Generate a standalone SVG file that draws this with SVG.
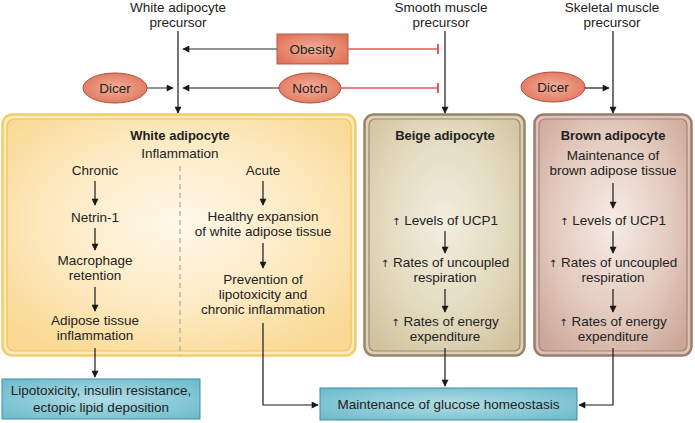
<svg xmlns="http://www.w3.org/2000/svg" width="695" height="423" viewBox="0 0 695 423">
<defs>
<radialGradient id="gWhite" cx="0.5" cy="0.45" r="0.65">
<stop offset="0" stop-color="#fff8ea"/><stop offset="0.6" stop-color="#fde9bf"/><stop offset="1" stop-color="#f9d993"/>
</radialGradient>
<radialGradient id="gBeige" cx="0.5" cy="0.45" r="0.7">
<stop offset="0" stop-color="#f2eee0"/><stop offset="0.6" stop-color="#e2d9bd"/><stop offset="1" stop-color="#cfc19a"/>
</radialGradient>
<radialGradient id="gBrown" cx="0.5" cy="0.45" r="0.7">
<stop offset="0" stop-color="#f6ece6"/><stop offset="0.6" stop-color="#e2c8bc"/><stop offset="1" stop-color="#cba596"/>
</radialGradient>
<radialGradient id="gRed" cx="0.5" cy="0.5" r="0.6">
<stop offset="0" stop-color="#f3b09c"/><stop offset="1" stop-color="#e07358"/>
</radialGradient>
<radialGradient id="gBlue" cx="0.5" cy="0.5" r="0.65">
<stop offset="0" stop-color="#b2dde6"/><stop offset="1" stop-color="#6fbccd"/>
</radialGradient>
<marker id="ah" viewBox="0 0 10 10" refX="9" refY="5" markerWidth="10" markerHeight="7" markerUnits="userSpaceOnUse" orient="auto">
<path d="M0,0 L10,5 L0,10 z" fill="#1a1a1a"/>
</marker>
<marker id="tbar" viewBox="0 0 2 10" refX="1" refY="5" markerWidth="2" markerHeight="10" markerUnits="userSpaceOnUse" orient="auto">
<rect x="0" y="0" width="2" height="10" fill="#e05a5a"/>
</marker>
<style>
text{font-family:"Liberation Sans",Arial,sans-serif;font-size:13.5px;fill:#222;text-anchor:middle}
.b{font-weight:bold;font-size:13px}
.up{font-family:"DejaVu Sans",sans-serif;font-size:10px;fill:#222}
.ln{stroke:#1a1a1a;stroke-width:1.2;fill:none}
.gr{stroke:#707070;stroke-width:1.5;fill:none}
.red{stroke:#e05a5a;stroke-width:1.3;fill:none}
.pill{fill:url(#gRed);stroke:#a8503c;stroke-width:1}
.blue{fill:url(#gBlue);stroke:#3f8ea2;stroke-width:1}
</style>
</defs>

<g id="white-precursor"><text x="178" y="12">White adipocyte</text><text x="178" y="27">precursor</text></g>
<g id="smooth-precursor"><text x="441" y="12">Smooth muscle</text><text x="441" y="27">precursor</text></g>
<g id="skeletal-precursor"><text x="612" y="12">Skeletal muscle</text><text x="612" y="27">precursor</text></g>

<g id="obesity"><rect x="277" y="34" width="71" height="30" fill="url(#gRed)" stroke="#b05a46" stroke-width="1"/><text x="312.5" y="54">Obesity</text></g>
<g id="notch"><ellipse cx="310" cy="88" rx="31" ry="15" class="pill"/><text x="310" y="93">Notch</text></g>
<g id="dicer-left"><ellipse cx="115" cy="88" rx="32" ry="15" class="pill"/><text x="115" y="93">Dicer</text></g>
<g id="dicer-right"><ellipse cx="553" cy="87" rx="32" ry="15" class="pill"/><text x="553" y="92">Dicer</text></g>

<g id="white-adipocyte">
<rect x="2.5" y="114.5" width="353" height="241" rx="10" fill="#fdebb9" stroke="#f4cc6c" stroke-width="2.5"/>
<rect x="7" y="119" width="344" height="232" rx="7" fill="url(#gWhite)" stroke="#f0c25c" stroke-width="1.2"/>
<text x="180" y="140" class="b">White adipocyte</text>
<text x="180" y="158">Inflammation</text>
<line x1="180" y1="166" x2="180" y2="356" stroke="#a8a8a0" stroke-width="1.2" stroke-dasharray="5,4"/>
<text x="95" y="175">Chronic</text>
<text x="95" y="222">Netrin-1</text>
<text x="95" y="265">Macrophage</text>
<text x="95" y="280">retention</text>
<text x="95" y="325">Adipose tissue</text>
<text x="95" y="340">inflammation</text>
<text x="263" y="175">Acute</text>
<text x="263" y="221">Healthy expansion</text>
<text x="263" y="236">of white adipose tissue</text>
<text x="263" y="284">Prevention of</text>
<text x="263" y="299">lipotoxicity and</text>
<text x="263" y="314">chronic inflammation</text>
</g>

<g id="beige-adipocyte">
<rect x="364.5" y="114.5" width="160" height="241" rx="9" fill="#ddd2b8" stroke="#968469" stroke-width="2.5"/>
<rect x="369" y="119" width="151" height="232" rx="6" fill="url(#gBeige)" stroke="#9a8a6e" stroke-width="1.2"/>
<text x="445" y="140" class="b">Beige adipocyte</text>
<text x="445" y="225"><tspan class="up">↑</tspan> Levels of UCP1</text>
<text x="445" y="267"><tspan class="up">↑</tspan> Rates of uncoupled</text>
<text x="445" y="282">respiration</text>
<text x="445" y="326"><tspan class="up">↑</tspan> Rates of energy</text>
<text x="445" y="341">expenditure</text>
</g>

<g id="brown-adipocyte">
<rect x="534.5" y="114.5" width="157" height="241" rx="9" fill="#dcc4b8" stroke="#9c7a6c" stroke-width="2.5"/>
<rect x="539" y="119" width="148" height="232" rx="6" fill="url(#gBrown)" stroke="#a48476" stroke-width="1.2"/>
<text x="613" y="140" class="b">Brown adipocyte</text>
<text x="613" y="160">Maintenance of</text>
<text x="613" y="175">brown adipose tissue</text>
<text x="613" y="225"><tspan class="up">↑</tspan> Levels of UCP1</text>
<text x="613" y="267"><tspan class="up">↑</tspan> Rates of uncoupled</text>
<text x="613" y="282">respiration</text>
<text x="613" y="326"><tspan class="up">↑</tspan> Rates of energy</text>
<text x="613" y="341">expenditure</text>
</g>

<g id="lipotoxicity"><rect x="2" y="379" width="198" height="40" class="blue"/><text x="101" y="395">Lipotoxicity, insulin resistance,</text><text x="101" y="412">ectopic lipid deposition</text></g>
<g id="glucose"><rect x="320" y="388" width="257" height="32" class="blue"/><text x="448.5" y="409">Maintenance of glucose homeostasis</text></g>

<g id="connectors">
<line x1="178" y1="31" x2="178" y2="113" class="ln" marker-end="url(#ah)"/>
<line x1="445" y1="31" x2="445" y2="113" class="ln" marker-end="url(#ah)"/>
<line x1="613" y1="31" x2="613" y2="113" class="ln" marker-end="url(#ah)"/>
<line x1="277" y1="49" x2="183" y2="49" class="gr" marker-end="url(#ah)"/>
<line x1="279" y1="88" x2="183" y2="88" class="ln" marker-end="url(#ah)"/>
<line x1="147" y1="88" x2="173" y2="88" class="gr" marker-end="url(#ah)"/>
<line x1="585" y1="88" x2="609" y2="88" class="ln" marker-end="url(#ah)"/>
<line x1="348" y1="49" x2="438" y2="49" class="red" marker-end="url(#tbar)"/>
<line x1="341" y1="88" x2="438" y2="88" class="red" marker-end="url(#tbar)"/>
<line x1="95" y1="181" x2="95" y2="205" class="ln" marker-end="url(#ah)"/>
<line x1="95" y1="228" x2="95" y2="250" class="ln" marker-end="url(#ah)"/>
<line x1="95" y1="287" x2="95" y2="311" class="ln" marker-end="url(#ah)"/>
<line x1="95" y1="348" x2="95" y2="377" class="ln" marker-end="url(#ah)"/>
<line x1="263" y1="181" x2="263" y2="205" class="ln" marker-end="url(#ah)"/>
<line x1="263" y1="243" x2="263" y2="268" class="ln" marker-end="url(#ah)"/>
<polyline points="263,323 263,405 318,405" class="ln" marker-end="url(#ah)"/>
<line x1="445" y1="231" x2="445" y2="253" class="ln" marker-end="url(#ah)"/>
<line x1="445" y1="289" x2="445" y2="312" class="ln" marker-end="url(#ah)"/>
<line x1="445" y1="348" x2="445" y2="386" class="ln" marker-end="url(#ah)"/>
<line x1="613" y1="183" x2="613" y2="208" class="ln" marker-end="url(#ah)"/>
<line x1="613" y1="231" x2="613" y2="253" class="ln" marker-end="url(#ah)"/>
<line x1="613" y1="289" x2="613" y2="312" class="ln" marker-end="url(#ah)"/>
<polyline points="613,348 613,405 579,405" class="ln" marker-end="url(#ah)"/>
</g>
</svg>
